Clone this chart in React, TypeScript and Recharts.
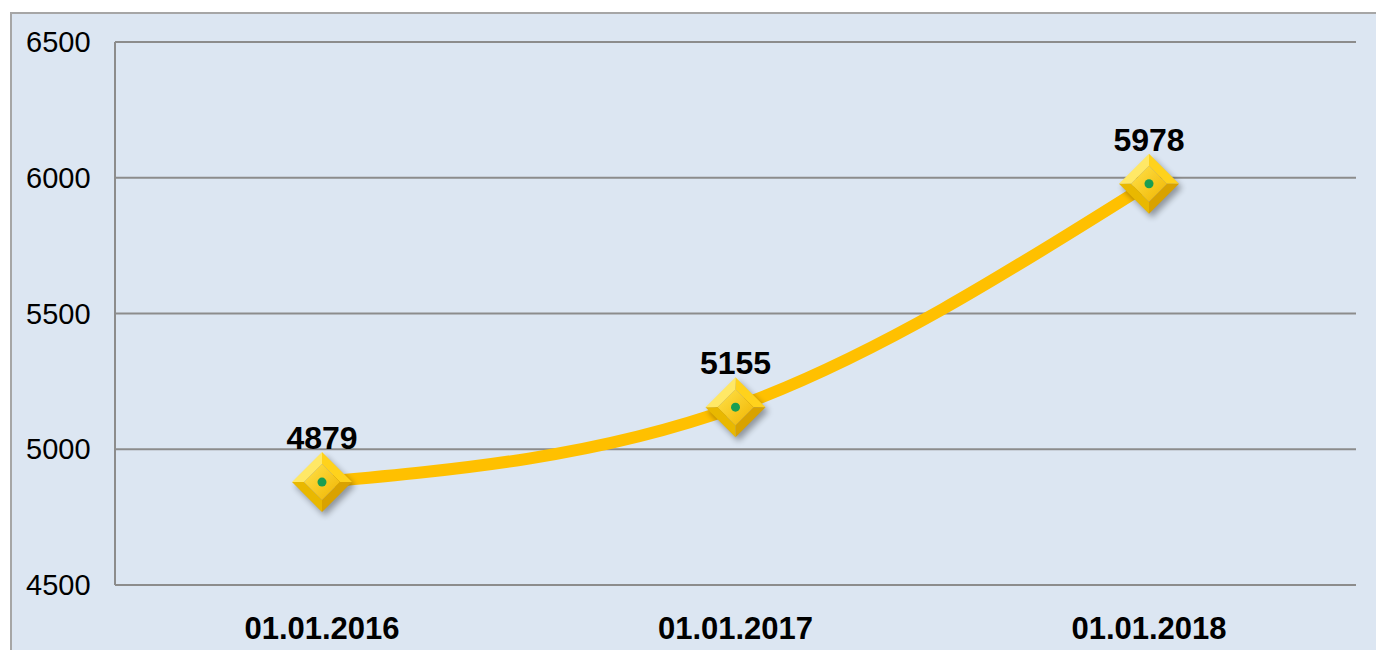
import { LineChart, Line, XAxis, YAxis, CartesianGrid, LabelList } from 'recharts'

// ── data ──────────────────────────────────────────────
const dates = ['01.01.2016', '01.01.2017', '01.01.2018']
const values = [4879, 5155, 5978]
const yTicks = [4500, 5000, 5500, 6000, 6500]

const data = dates.map((d, i) => ({ date: d, value: values[i] }))

const FONT = '"Liberation Sans", Arial, sans-serif'
const GRID = '#8c8c8c'

// diamond marker with bevel + green center dot
function DiamondDot(props: any) {
  const { cx, cy, index } = props
  if (cx == null || cy == null) return null
  const R = 30
  const r = 18
  const id = `dd${index}`
  const p = (pts: number[][]) => pts.map(([x, y]) => `${cx + x},${cy + y}`).join(' ')
  return (
    <g>
      <defs>
        <filter id={`${id}s`} x="-50%" y="-50%" width="200%" height="200%">
          <feGaussianBlur stdDeviation="3" />
        </filter>
        <linearGradient id={`${id}g`} x1="0" y1="0" x2="1" y2="1">
          <stop offset="0%" stopColor="#ffe24a" />
          <stop offset="100%" stopColor="#f0b400" />
        </linearGradient>
      </defs>
      <polygon points={p([[3, -R + 4], [R + 3, 4], [3, R + 4], [-R + 3, 4]])} fill="#000" opacity={0.35} filter={`url(#${id}s)`} />
      {/* facets */}
      <polygon points={p([[-R, 0], [0, -R], [0, -r], [-r, 0]])} fill="#ffe866" />
      <polygon points={p([[0, -R], [R, 0], [r, 0], [0, -r]])} fill="#ffd21c" />
      <polygon points={p([[R, 0], [0, R], [0, r], [r, 0]])} fill="#d9a200" />
      <polygon points={p([[0, R], [-R, 0], [-r, 0], [0, r]])} fill="#e9b800" />
      <polygon points={p([[0, -r], [r, 0], [0, r], [-r, 0]])} fill={`url(#${id}g)`} />
      <circle cx={cx} cy={cy} r={4.5} fill="#1a9e52" />
    </g>
  )
}

function YTick(props: any) {
  const { y, payload } = props
  return (
    <text x={26} y={y} dy={10} textAnchor="start" fontFamily={FONT} fontSize={29} fill="#000">
      {payload.value}
    </text>
  )
}

function XTick(props: any) {
  const { x, payload } = props
  return (
    <text x={x} y={639} textAnchor="middle" fontFamily={FONT} fontSize={31} fontWeight="bold" fill="#000">
      {payload.value}
    </text>
  )
}

export default function App() {
  return (
    <div style={{ position: 'absolute', left: 0, top: 0, width: 1376, height: 650, background: '#fff', overflow: 'hidden' }}>
      <div
        style={{
          position: 'absolute', left: 10, top: 12, width: 1400, height: 700,
          background: '#dce6f2', border: '2px solid #a6a6a6', boxSizing: 'border-box',
        }}
      />
      <div style={{ position: 'absolute', left: 0, top: 0 }}>
        <LineChart width={1376} height={650} data={data} margin={{ top: 42, right: 20, bottom: 0, left: 10 }}>
          <CartesianGrid vertical={false} stroke={GRID} strokeWidth={2} />
          <XAxis
            dataKey="date"
            height={65}
            axisLine={false}
            tickLine={false}
            padding={{ left: 207, right: 207 }}
            tick={<XTick />}
            interval={0}
          />
          <YAxis
            type="number"
            domain={[4500, 6500]}
            ticks={yTicks}
            width={105}
            axisLine={{ stroke: GRID, strokeWidth: 2 }}
            tickLine={false}
            tick={<YTick />}
          />
          <Line
            type="monotone"
            dataKey="value"
            stroke="#ffc000"
            strokeWidth={12}
            dot={<DiamondDot />}
            activeDot={false}
            isAnimationActive={false}
          >
            <LabelList
              dataKey="value"
              position="top"
              offset={33}
              fontFamily={FONT}
              fontSize={32}
              fontWeight="bold"
              fill="#000"
            />
          </Line>
        </LineChart>
      </div>
    </div>
  )
}
